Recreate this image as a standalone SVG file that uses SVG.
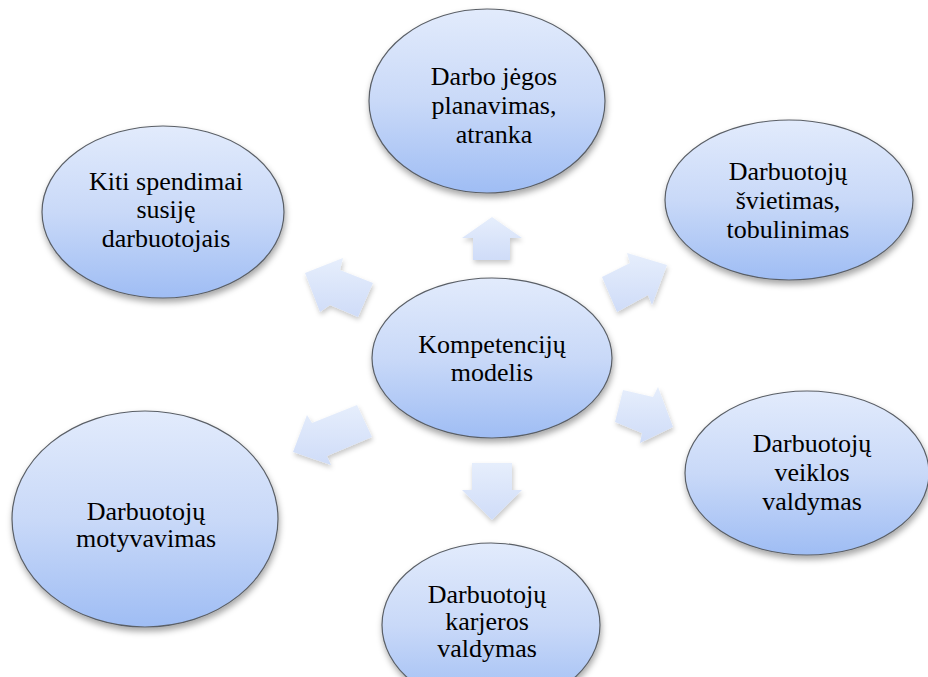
<svg xmlns="http://www.w3.org/2000/svg" width="928" height="677" viewBox="0 0 928 677">
<defs>
<linearGradient id="eg" x1="0" y1="0" x2="0" y2="1">
<stop offset="0" stop-color="#e2ebfc"/>
<stop offset="0.5" stop-color="#c9d9f8"/>
<stop offset="1" stop-color="#9fbdf4"/>
</linearGradient>
<linearGradient id="ag" x1="0" y1="0" x2="0" y2="1">
<stop offset="0" stop-color="#e6eefc"/>
<stop offset="1" stop-color="#cfdcf8"/>
</linearGradient>
<filter id="sh" x="-20%" y="-20%" width="140%" height="150%">
<feDropShadow dx="1" dy="4" stdDeviation="3" flood-color="#000" flood-opacity="0.35"/>
</filter>
<filter id="ash" x="-30%" y="-30%" width="160%" height="160%">
<feDropShadow dx="1" dy="3" stdDeviation="2.5" flood-color="#000" flood-opacity="0.22"/>
</filter>
</defs>
<style>
.node ellipse{fill:url(#eg);stroke:#5a5f66;stroke-width:1.2;filter:url(#sh)}
.node text{font-family:'Liberation Serif','DejaVu Serif',serif;font-size:26px;fill:#000;text-anchor:middle}
.arr polygon{fill:url(#ag);filter:url(#ash)}
</style>
<rect width="928" height="677" fill="#fff"/>
<g id="connectors" class="arr">
<polygon points="492,217 522,238 510,238 510,260 473,260 473,238 462,238"/>
<polygon points="472,463 512,463 512,490 522,490 492,520 462,490 472,490"/>
<polygon points="602,277 630,263 627,253 667,265 652,305 648,295 617,312"/>
<polygon points="623,390 653,397 658,387 673,427 640,443 642,433 615,422"/>
<polygon points="305,273 343,258 340,270 373,283 358,317 330,305 320,312"/>
<polygon points="357,405 372,437 327,456 331,465 293,452 307,415 312,423"/>
</g>
<g id="node-top" class="node" font-family="Liberation Serif, serif">
<ellipse cx="487" cy="101" rx="118" ry="92"/>
<text x="494" y="85">Darbo jėgos</text>
<text x="494" y="114">planavimas,</text>
<text x="494" y="143">atranka</text>
</g>
<g id="node-topleft" class="node" font-family="Liberation Serif, serif">
<ellipse cx="163" cy="212" rx="121" ry="86"/>
<text x="166" y="190">Kiti spendimai</text>
<text x="166" y="218">susiję</text>
<text x="166" y="247">darbuotojais</text>
</g>
<g id="node-topright" class="node" font-family="Liberation Serif, serif">
<ellipse cx="789" cy="200" rx="124" ry="80"/>
<text x="788" y="180">Darbuotojų</text>
<text x="788" y="209">švietimas,</text>
<text x="788" y="238">tobulinimas</text>
</g>
<g id="node-center" class="node" font-family="Liberation Serif, serif">
<ellipse cx="492" cy="358" rx="120" ry="80"/>
<text x="492" y="353">Kompetencijų</text>
<text x="492" y="381">modelis</text>
</g>
<g id="node-bottomright" class="node" font-family="Liberation Serif, serif">
<ellipse cx="807" cy="473" rx="122" ry="82"/>
<text x="812" y="452">Darbuotojų</text>
<text x="812" y="481">veiklos</text>
<text x="812" y="510">valdymas</text>
</g>
<g id="node-bottomleft" class="node" font-family="Liberation Serif, serif">
<ellipse cx="145" cy="519" rx="133" ry="108"/>
<text x="146" y="520">Darbuotojų</text>
<text x="146" y="547">motyvavimas</text>
</g>
<g id="node-bottom" class="node" font-family="Liberation Serif, serif">
<ellipse cx="491" cy="625" rx="109" ry="82"/>
<text x="487" y="603">Darbuotojų</text>
<text x="487" y="630">karjeros</text>
<text x="487" y="657">valdymas</text>
</g>
</svg>
